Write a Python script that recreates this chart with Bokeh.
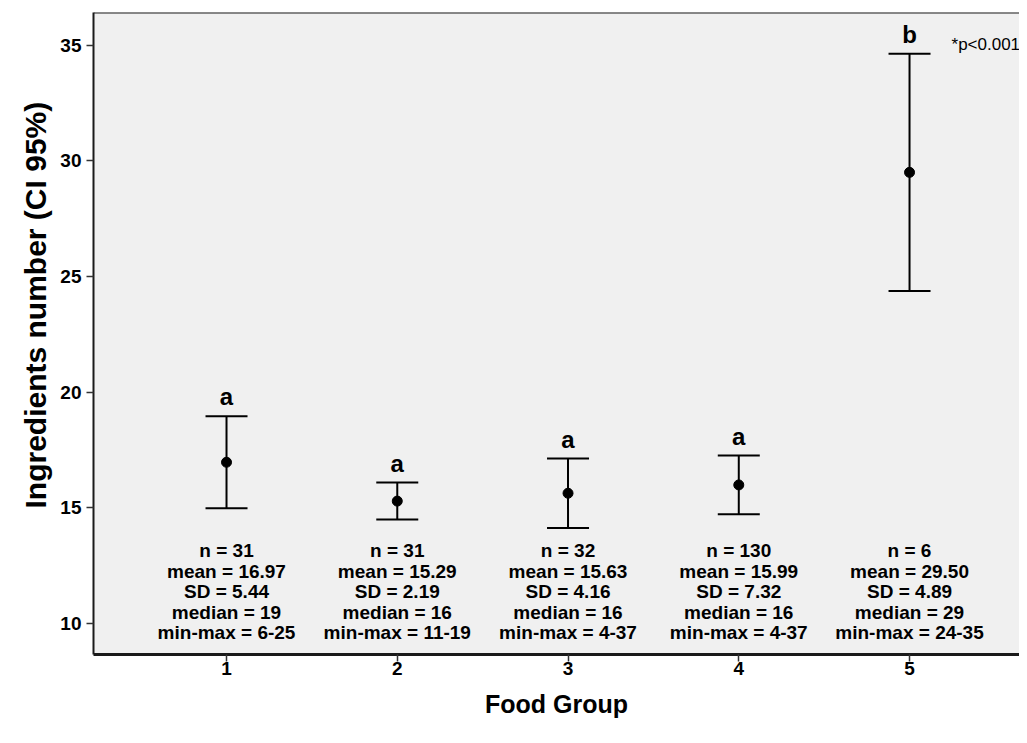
from bokeh.plotting import figure
from bokeh.models import ColumnDataSource, Whisker, TeeHead, FixedTicker, SingleIntervalTicker, Span, Range1d, Title
from bokeh.core.properties import value
from bokeh.embed import file_html
from bokeh.resources import INLINE

# ---- data ----
groups = [1, 2, 3, 4, 5]
group_labels = ["1", "2", "3", "4", "5"]
means = [16.97, 15.29, 15.63, 15.99, 29.50]
ci_lower = [14.98, 14.49, 14.13, 14.72, 24.37]
ci_upper = [18.96, 16.09, 17.13, 17.26, 34.63]
n_vals = [31, 31, 32, 130, 6]
sd_vals = [5.44, 2.19, 4.16, 7.32, 4.89]
medians = [19, 16, 16, 16, 29]
mins = [6, 11, 4, 4, 24]
maxs = [25, 19, 37, 37, 35]
letters = ["a", "a", "a", "a", "b"]
p_note = "*p<0.001"
x_title = "Food Group"
y_title = "Ingredients number (CI 95%)"

FONT = "Liberation Sans"
W, H = 1019, 735
BORDER_L, BORDER_T, BORDER_B = 93, 12, 81

stats_text = [
    f"n = {n}\nmean = {m:.2f}\nSD = {s:.2f}\nmedian = {md}\nmin-max = {lo}-{hi}"
    for n, m, s, md, lo, hi in zip(n_vals, means, sd_vals, medians, mins, maxs)
]

src = ColumnDataSource(dict(
    x=groups, mean=means, lower=ci_lower, upper=ci_upper,
    letter=letters, stats=stats_text,
))

Y0, Y1 = 8.66, 36.41
p = figure(width=W, height=H, output_backend="svg", toolbar_location=None,
           x_range=Range1d(0.221, 5.644), y_range=Range1d(Y0, Y1),
           min_border_left=BORDER_L, min_border_right=0,
           min_border_top=BORDER_T, min_border_bottom=BORDER_B)

p.background_fill_color = "#f0f0f0"
p.border_fill_color = "white"
p.outline_line_color = None
p.grid.visible = False

# axes
p.xaxis.ticker = FixedTicker(ticks=groups)
p.xaxis.major_label_overrides = {g: lab for g, lab in zip(groups, group_labels)}
p.yaxis.ticker = SingleIntervalTicker(interval=5)
for ax in (p.xaxis[0], p.yaxis[0]):
    ax.major_tick_out = 7
    ax.major_tick_in = 0
    ax.minor_tick_out = 0
    ax.minor_tick_in = 0
    ax.major_tick_line_color = "#333333"
    ax.major_tick_line_width = 1.5
    ax.axis_line_color = "#1a1a1a"
    ax.major_label_text_font = FONT
    ax.major_label_text_font_style = "bold"
    ax.major_label_text_font_size = "19px"
    ax.major_label_text_color = "black"
    ax.axis_label_text_font = FONT
    ax.axis_label_text_font_style = "bold"
    ax.axis_label_text_font_size = "25px"
    ax.axis_label_text_color = "black"
p.yaxis.axis_line_width = 2
p.xaxis.axis_line_width = 3
p.yaxis.major_label_standoff = 5
p.xaxis.major_label_standoff = 0
p.xaxis.axis_label_standoff = 12
p.xaxis.axis_label = x_title

# y title as a side title, positioned like the reference (above frame centre)
p.add_layout(Title(text=y_title, align="left", offset=146, standoff=11,
                   text_font=FONT, text_font_style="bold", text_font_size="30px",
                   text_color="black"), "left")

# top frame line
p.add_layout(Span(location=Y1, dimension="width", line_color="#1a1a1a", line_width=2))

# error bars
w = Whisker(base="x", lower="lower", upper="upper", source=src, dimension="height",
            line_color="black", line_width=2,
            upper_head=TeeHead(size=42, line_color="black", line_width=2),
            lower_head=TeeHead(size=42, line_color="black", line_width=2))
p.add_layout(w)

# means
p.scatter("x", "mean", source=src, size=10, color="black")

# significance letters
p.text("x", "upper", text="letter", source=src, text_align="center",
       text_baseline="bottom", y_offset=-6,
       text_font=value(FONT), text_font_style="bold", text_font_size="24px",
       text_color="black")

# stats blocks
p.text("x", Y0, text="stats", source=src, text_align="center",
       text_baseline="bottom", y_offset=-11, text_line_height=0.98,
       text_font=value(FONT), text_font_style="bold", text_font_size="19px",
       text_color="black")

# p-value note
p.text(x=[groups[-1]], y=[ci_upper[-1]], text=[p_note], text_align="left",
       text_baseline="middle", x_offset=42, y_offset=-9,
       text_font=value(FONT), text_font_size="17px", text_color="black")

open("out.html", "w").write(file_html(p, INLINE))
